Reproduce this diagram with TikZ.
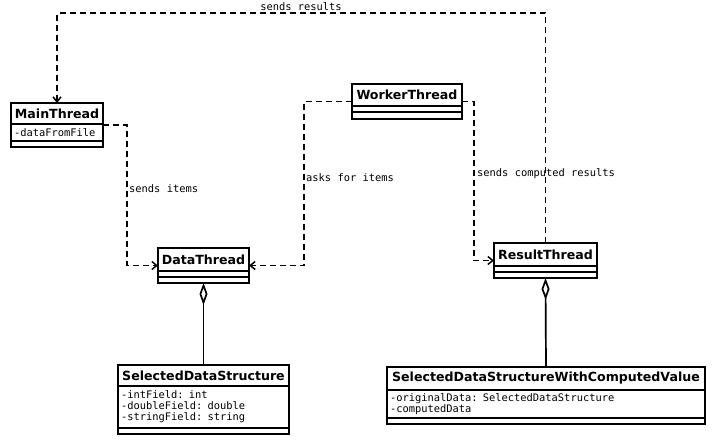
\documentclass[tikz,border=0pt]{standalone}
\usepackage{fontspec}
\newfontfamily\ttlfont{DejaVu Sans}
\newfontfamily\monof{DejaVu Sans Mono}
\usetikzlibrary{arrows.meta}
\begin{document}
\begin{tikzpicture}[x=1pt,y=-1pt,
 box/.style={draw,line width=1.6pt,inner sep=0pt,outer sep=0pt},
 ttl/.style={box,font=\ttlfont\bfseries\fontsize{12.6}{14}\selectfont,minimum height=22pt,anchor=north},
 attr/.style={box,font=\monof\fontsize{10.4}{11}\selectfont,align=left,anchor=north west,inner xsep=3pt,inner ysep=1pt},
 sep/.style={line width=1.6pt},
 dep/.style={line width=1.5pt,dash pattern=on 6pt off 4pt,-{Straight Barb[length=5pt,width=8pt]}},
 lbl/.style={font=\monof\fontsize{10.4}{11}\selectfont,inner sep=0pt,anchor=west},
 agg/.style={line width=1.7pt,{Diamond[open,length=22pt,width=8pt]}-}]
\useasboundingbox (0,0) rectangle (725,440);

% MainThread
\node[box,minimum width=92pt,minimum height=44pt,anchor=north west] (main) at (11,103) {};
\node[ttl,minimum width=92pt,minimum height=21pt] (mainT) at (main.north) {MainThread};
\node[attr,text width=86pt,minimum height=17pt] (mainA) at (mainT.south west) {-dataFromFile};

% WorkerThread
\node[box,minimum width=110pt,minimum height=35pt,anchor=north west] (worker) at (352,84) {};
\node[ttl,minimum width=110pt] (workerT) at (worker.north) {WorkerThread};
\draw[sep] ([yshift=-6pt]workerT.south west) -- ([yshift=-6pt]workerT.south east);

% DataThread
\node[box,minimum width=91pt,minimum height=35pt,anchor=north west] (data) at (158,248) {};
\node[ttl,minimum width=91pt,minimum height=23pt] (dataT) at (data.north) {DataThread};
\draw[sep] ([yshift=-6pt]dataT.south west) -- ([yshift=-6pt]dataT.south east);

% ResultThread
\node[box,minimum width=103pt,minimum height=35pt,anchor=north west] (result) at (494,243) {};
\node[ttl,minimum width=103pt,minimum height=23pt] (resultT) at (result.north) {ResultThread};
\draw[sep] ([yshift=-6pt]resultT.south west) -- ([yshift=-6pt]resultT.south east);

% SelectedDataStructure
\node[box,minimum width=171pt,minimum height=69pt,anchor=north west] (sds) at (118,365) {};
\node[ttl,minimum width=171pt,minimum height=21pt] (sdsT) at (sds.north) {SelectedDataStructure};
\node[attr,text width=165pt,minimum height=42pt] (sdsA) at (sdsT.south west) {-intField: int\\-doubleField: double\\-stringField: string};

% SelectedDataStructureWithComputedValue
\node[box,minimum width=318pt,minimum height=57pt,anchor=north west] (sdsw) at (387,367) {};
\node[ttl,minimum width=318pt,minimum height=23pt] (sdswT) at (sdsw.north) {SelectedDataStructureWithComputedValue};
\node[attr,text width=312pt,minimum height=28pt] (sdswA) at (sdswT.south west) {-originalData: SelectedDataStructure\\-computedData};

% connectors
\coordinate (topc) at (301,13);
\draw[dep] (result.north) |- (topc) -| (main.north);
\node[lbl,anchor=base] (l1) at (301,10) {sends results};

\coordinate (k1) at (127,200);
\draw[dep] (main.east) -| (k1) |- (data.west);
\node[lbl] (l2) at (129,189) {sends items};

\coordinate (k2) at (304,180);
\draw[dep] (worker.west) -| (k2) |- (data.east);
\node[lbl] (l3) at (306,178) {asks for items};

\coordinate (k3) at (474,180);
\draw[dep] (worker.east) -| (k3) |- (result.west);
\node[lbl] (l4) at (477,174) {sends computed results};

\draw[agg] (data.south) -- (sds.north);
\draw[agg] (result.south) -- (sdsw.north);
\end{tikzpicture}
\end{document}
